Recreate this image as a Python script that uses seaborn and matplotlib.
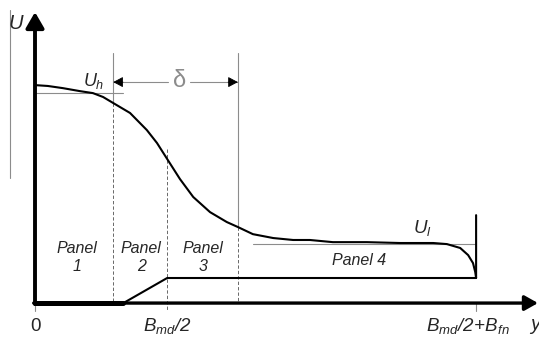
import matplotlib
matplotlib.use("Agg")
import matplotlib.pyplot as plt
import numpy as np
import pandas as pd
import seaborn as sns

# velocity profile U(y) across the section, y in plot units (B_md/2 = 3)
curve_y = [0.0, 0.29, 0.63, 1.02, 1.31, 1.54, 1.77, 2.15, 2.53, 2.76, 2.99,
           3.28, 3.58, 3.96, 4.34, 4.59, 4.93, 5.39, 5.84, 6.22, 6.74, 7.51,
           8.26, 9.01, 9.32, 9.62, 9.80, 9.91, 9.96, 9.98]
curve_u = [1.009, 1.005, 0.995, 0.981, 0.972, 0.954, 0.926, 0.880, 0.801,
           0.741, 0.667, 0.574, 0.491, 0.421, 0.375, 0.352, 0.319, 0.301,
           0.292, 0.292, 0.282, 0.282, 0.278, 0.278, 0.273, 0.255, 0.222,
           0.185, 0.144, 0.116]

# bed / cross section outline
bed_y = [2.0, 2.99, 9.98, 9.98]
bed_u = [0.0, 0.116, 0.116, 0.407]
bed_flat_y = [0.0, 2.0]
bed_flat_u = [0.0, 0.0]

u_high = 0.972
u_low = 0.273
edge_left = 1.77      # left end of delta
edge_mid = 2.99       # B_md/2
edge_right = 4.59     # right end of delta
y_end = 9.98          # B_md/2 + B_fn

panel_names = ["Panel\n1", "Panel\n2", "Panel\n3", "Panel 4"]
panel_x = [0.95, 2.40, 3.80, 7.33]
panel_u = [0.213, 0.213, 0.213, 0.199]

tick_pos = [0.0, edge_mid, y_end]
tick_labels = ["0", r"$B_{md}/2$", r"$B_{md}/2\!+\!B_{fn}$"]
tick_label_x = [0.0, 3.0, 9.8]

sns.set_style("white")
plt.rcParams["font.family"] = ["Liberation Sans", "DejaVu Sans"]
plt.rcParams["mathtext.fontset"] = "custom"
plt.rcParams["mathtext.rm"] = "Liberation Sans:italic"
plt.rcParams["mathtext.it"] = "Liberation Sans:italic"
plt.rcParams["mathtext.default"] = "it"

fig = plt.figure(figsize=(5.39, 3.4), dpi=100)
ax = fig.add_axes([0, 0, 1, 1])
ax.set_xlim(-0.792, 11.403)
ax.set_ylim(-0.171, 1.403)
ax.axis("off")

grey = "#8c8c8c"
dash = "#505050"

# stray frame line at the left
ax.plot([-0.566, -0.566], [0.579, 1.356], color=grey, lw=0.8)

# guide lines
ax.plot([edge_left, edge_left], [1.157, 0.926], color=grey, lw=0.8)
ax.plot([edge_right, edge_right], [1.157, 0.352], color=grey, lw=0.8)
ax.plot([edge_left, edge_left], [0.926, 0.0], color=dash, lw=0.6, ls=(0, (4, 2.5)))
ax.plot([edge_right, edge_right], [0.352, 0.0], color=dash, lw=0.6, ls=(0, (4, 2.5)))
ax.plot([edge_mid, edge_mid], [0.711, -0.037], color=dash, lw=0.6, ls=(0, (4, 2.5)))
ax.plot([0.0, 0.0], [0.0, -0.037], color=grey, lw=0.8)
ax.plot([y_end, y_end], [0.0, -0.037], color=grey, lw=0.8)

ax.plot([0.0, 2.0], [u_high, u_high], color=grey, lw=0.8)
ax.plot([4.93, y_end], [u_low, u_low], color=grey, lw=0.8)

# delta dimension arrow
ax.plot([edge_left, 3.01], [1.023, 1.023], color=grey, lw=0.8)
ax.plot([3.51, edge_right], [1.023, 1.023], color=grey, lw=0.8)
for tip, tail in [(edge_left, edge_left + 0.22), (edge_right, edge_right - 0.22)]:
    ax.annotate("", xy=(tip, 1.023), xytext=(tail, 1.023),
                arrowprops=dict(arrowstyle="-|>,head_length=0.6,head_width=0.32",
                                color="black", lw=0.6, shrinkA=0, shrinkB=0))
ax.text(3.26, 1.030, "δ", color=grey, fontsize=17, ha="center", va="center")

# profile and bed
prof = pd.DataFrame({"y": curve_y, "U": curve_u})
sns.lineplot(data=prof, x="y", y="U", sort=False, estimator=None,
             color="black", lw=1.5, ax=ax)
bed = pd.DataFrame({"y": bed_y, "U": bed_u})
sns.lineplot(data=bed, x="y", y="U", sort=False, estimator=None,
             color="black", lw=1.5, ax=ax)
flat = pd.DataFrame({"y": bed_flat_y, "U": bed_flat_u})
sns.lineplot(data=flat, x="y", y="U", sort=False, estimator=None,
             color="black", lw=3.6, ax=ax)

# axes with arrows
ax.annotate("", xy=(0.0, 1.347), xytext=(0.0, -0.005),
            arrowprops=dict(arrowstyle="-|>,head_length=0.95,head_width=0.55",
                            color="black", lw=2.8, shrinkA=0, shrinkB=0))
ax.annotate("", xy=(11.38, 0.0), xytext=(-0.03, 0.0),
            arrowprops=dict(arrowstyle="-|>,head_length=0.8,head_width=0.45",
                            color="black", lw=2.4, shrinkA=0, shrinkB=0))

ax.set_xlabel("")
ax.set_ylabel("")

# labels
ax.text(-0.43, 1.292, "U", fontsize=14.5, style="italic", ha="center", va="center")
ax.text(11.31, -0.100, "y", fontsize=14.5, style="italic", ha="center", va="center")
for x, lab in zip(tick_label_x, tick_labels):
    ax.text(x, -0.108, lab, fontsize=13.5, ha="center", va="center")
ax.text(1.086, 1.005, r"$U_h$", fontsize=13, ha="left", va="baseline")
ax.text(8.55, 0.324, r"$U_l$", fontsize=13.5, ha="left", va="baseline")
for name, x, u in zip(panel_names, panel_x, panel_u):
    ax.text(x, u, name, fontsize=11.5, style="italic", ha="center", va="center",
            linespacing=1.25)

fig.savefig("out.png", dpi=100)
